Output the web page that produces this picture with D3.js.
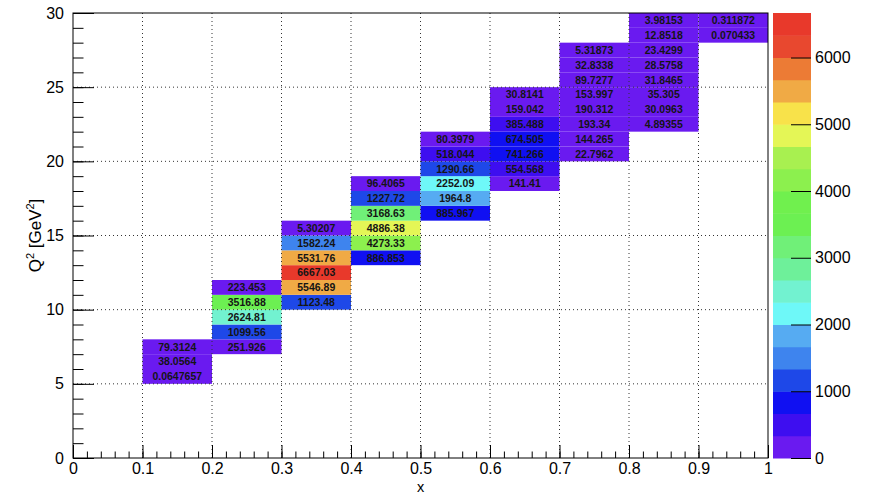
<!DOCTYPE html>
<html>
<head>
<meta charset="utf-8">
<script src="https://cdn.jsdelivr.net/npm/d3@7"></script>
<style>
  body { margin: 0; background: #fff; }
  text { font-family: "Liberation Sans", Arial, Helvetica, sans-serif; }
</style>
</head>
<body>
<div id="chart"></div>
<script>
const width = 869;
const height = 495;

// x bin low edges (bin width 0.1), first Q2 bin of each column (bin height 1 GeV^2)
const xLow = [0.1, 0.2, 0.3, 0.4, 0.5, 0.6, 0.7, 0.8, 0.9];
const q2Start = [5, 7, 10, 13, 16, 18, 20, 22, 28];
// bin contents per column, from lowest Q2 bin upward
const counts = [
  [0.0647657, 38.0564, 79.3124],
  [251.926, 1099.56, 2624.81, 3516.88, 223.453],
  [1123.48, 5546.89, 6667.03, 5531.76, 1582.24, 5.30207],
  [886.853, 4273.33, 4886.38, 3168.63, 1227.72, 96.4065],
  [885.967, 1964.8, 2252.09, 1290.66, 518.044, 80.3979],
  [141.41, 554.568, 741.266, 674.505, 385.488, 159.042, 30.8141],
  [22.7962, 144.265, 193.34, 190.312, 153.997, 89.7277, 32.8338, 5.31873],
  [4.89355, 30.0963, 35.305, 31.8465, 28.5758, 23.4299, 12.8518, 3.98153],
  [0.070433, 0.311872]
];
const zMax = 6667.03;
const xBinWidth = 0.1;
const yBinHeight = 1;

// 20 contour colours, low to high
const palette = [
  "#6a1af0", "#3e0ef0", "#1010f2", "#1e48e8", "#3e84ee",
  "#56abf2", "#6ef8f8", "#72f2d0", "#6ef09a", "#70f078",
  "#6cf052", "#70f04e", "#8cf04e", "#a8f050", "#e4f656",
  "#f8e24a", "#f0aa45", "#ec7b35", "#e8482f", "#e8392b"
];

const plot = { left: 73, right: 768, top: 13, bottom: 458 };
const cbar = { left: 773, right: 811 };

const svg = d3.select("#chart")
  .append("svg")
  .attr("width", width)
  .attr("height", height);

const x = d3.scaleLinear().domain([0, 1]).range([plot.left, plot.right]);
const y = d3.scaleLinear().domain([0, 30]).range([plot.bottom, plot.top]);
const color = d3.scaleQuantize().domain([0, zMax]).range(palette);
const z = d3.scaleLinear().domain([0, zMax]).range([plot.bottom, plot.top]);

// flatten bins
const bins = [];
counts.forEach((col, i) => {
  col.forEach((v, j) => {
    bins.push({ x0: xLow[i], y0: q2Start[i] + j * yBinHeight, value: v });
  });
});

// cells
svg.append("g")
  .selectAll("rect")
  .data(bins)
  .join("rect")
  .attr("x", d => x(d.x0))
  .attr("y", d => y(d.y0 + yBinHeight))
  .attr("width", d => x(d.x0 + xBinWidth) - x(d.x0))
  .attr("height", d => y(d.y0) - y(d.y0 + yBinHeight))
  .attr("fill", d => color(d.value));

// grid (drawn over cells, like ROOT)
const grid = svg.append("g")
  .attr("stroke", "#333")
  .attr("stroke-width", 1)
  .attr("stroke-dasharray", "1,3");
x.ticks(10).filter(t => t > 0 && t < 1).forEach(t => {
  grid.append("line")
    .attr("x1", x(t)).attr("x2", x(t))
    .attr("y1", plot.top).attr("y2", plot.bottom);
});
y.ticks(6).filter(t => t > 0 && t < 30).forEach(t => {
  grid.append("line")
    .attr("x1", plot.left).attr("x2", plot.right)
    .attr("y1", y(t)).attr("y2", y(t));
});

// cell labels
svg.append("g")
  .selectAll("text")
  .data(bins)
  .join("text")
  .attr("x", d => x(d.x0 + xBinWidth / 2))
  .attr("y", d => y(d.y0 + yBinHeight / 2))
  .attr("dy", "0.36em")
  .attr("text-anchor", "middle")
  .attr("font-size", 10.5)
  .attr("font-weight", "bold")
  .attr("fill", "#151515")
  .text(d => d.value);

// frame
svg.append("rect")
  .attr("x", plot.left).attr("y", plot.top)
  .attr("width", plot.right - plot.left)
  .attr("height", plot.bottom - plot.top)
  .attr("fill", "none")
  .attr("stroke", "#000")
  .attr("stroke-width", 1);

function styleAxis(g) {
  g.select(".domain").remove();
  g.selectAll("line").attr("stroke", "#000");
  g.selectAll("text")
    .attr("font-size", 16)
    .attr("font-family", "'Liberation Sans', Arial, Helvetica, sans-serif")
    .attr("fill", "#000");
}

// x axis: minor then major ticks, pointing inward
svg.append("g")
  .attr("transform", `translate(0,${plot.bottom})`)
  .call(d3.axisBottom(x).tickValues(x.ticks(50)).tickSize(-6.5).tickFormat(""))
  .call(styleAxis);
svg.append("g")
  .attr("transform", `translate(0,${plot.bottom})`)
  .call(d3.axisBottom(x).tickValues(x.ticks(10)).tickSize(-13).tickPadding(5)
    .tickFormat(d3.format("~g")))
  .call(styleAxis);

// y axis
svg.append("g")
  .attr("transform", `translate(${plot.left},0)`)
  .call(d3.axisLeft(y).tickValues(y.ticks(30)).tickSize(-10.5).tickFormat(""))
  .call(styleAxis);
svg.append("g")
  .attr("transform", `translate(${plot.left},0)`)
  .call(d3.axisLeft(y).tickValues(y.ticks(6)).tickSize(-21).tickPadding(9))
  .call(styleAxis);

// axis titles
svg.append("text")
  .attr("x", (plot.left + plot.right) / 2)
  .attr("y", 491.5)
  .attr("text-anchor", "middle")
  .attr("font-size", 14.5)
  .text("x");

const yTitle = svg.append("text")
  .attr("transform", `translate(41,${(plot.top + plot.bottom) / 2}) rotate(-90)`)
  .attr("text-anchor", "middle")
  .attr("font-size", 17);
yTitle.append("tspan").text("Q");
yTitle.append("tspan").attr("font-size", 11).attr("dy", -7).text("2");
yTitle.append("tspan").attr("dy", 7).text(" [GeV");
yTitle.append("tspan").attr("font-size", 11).attr("dy", -7).text("2");
yTitle.append("tspan").attr("dy", 7).text("]");

// colour bar
const bandEdges = d3.range(palette.length + 1).map(i => i * zMax / palette.length);
svg.append("g")
  .selectAll("rect")
  .data(palette)
  .join("rect")
  .attr("x", cbar.left)
  .attr("width", cbar.right - cbar.left)
  .attr("y", (c, i) => z(bandEdges[i + 1]))
  .attr("height", (c, i) => z(bandEdges[i]) - z(bandEdges[i + 1]) + 0.5)
  .attr("fill", c => c);

svg.append("g")
  .attr("transform", `translate(${cbar.right},0)`)
  .call(d3.axisRight(z).tickValues(z.ticks(7)).tickSize(-20).tickPadding(4)
    .tickFormat(d3.format("d")))
  .call(styleAxis);
</script>
</body>
</html>
